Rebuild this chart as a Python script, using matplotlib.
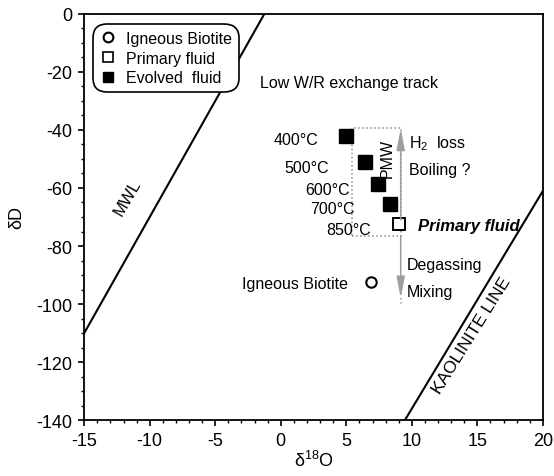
import numpy as np
import matplotlib
matplotlib.use('Agg')
import matplotlib.pyplot as plt
from matplotlib.patches import Rectangle
from matplotlib.lines import Line2D
from matplotlib.ticker import MultipleLocator

plt.rcParams['font.family'] = ['Liberation Sans', 'DejaVu Sans']
plt.rcParams['mathtext.fontset'] = 'custom'
plt.rcParams['mathtext.rm'] = 'Liberation Sans'
plt.rcParams['mathtext.it'] = 'Liberation Sans:italic'
plt.rcParams['axes.unicode_minus'] = False

# Evolved fluid compositions, one per temperature step
evolved_temps = ['400°C', '500°C', '600°C', '700°C']
evolved_d18o = [5.0, 6.4, 7.4, 8.3]
evolved_dd = [-42.0, -51.0, -58.5, -65.5]

# Primary magmatic fluid (850°C) and the igneous biotite
primary_temp = '850°C'
primary_d18o = 9.0
primary_dd = -72.5
biotite_d18o = 6.9
biotite_dd = -92.5

# Primary magmatic water (PMW) field
pmw_d18o = [5.45, 9.2]
pmw_dd = [-76.5, -39.5]

# Reference lines: dD = slope * d18O + intercept
mwl_slope, mwl_icpt = 8.0, 10.0
kaol_slope, kaol_icpt = 7.5, -211.0

# label offsets (points) for the temperature tags, right aligned
temp_offsets = [(-20, -3), (-26, -4), (-20, -4), (-25, -3)]
primary_offset = (-20, -4)

fig = plt.figure(figsize=(5.54, 4.77), dpi=100)
ax = fig.add_axes([0.152, 0.117, 0.828, 0.852])

xs = np.array([-15.0, 20.0])
ax.plot(xs, mwl_slope * xs + mwl_icpt, color='black', lw=1.5)
ax.plot(xs, kaol_slope * xs + kaol_icpt, color='black', lw=1.5)

# PMW box
ax.add_patch(Rectangle((pmw_d18o[0], pmw_dd[0]), pmw_d18o[1] - pmw_d18o[0],
                       pmw_dd[1] - pmw_dd[0], fill=False, ec='0.55', lw=1.1, ls=':'))

# H2 loss / boiling (up) and degassing / mixing (down) tracks
arrow_x = 9.15
head = dict(arrowstyle='-|>,head_length=1.3,head_width=0.25', color='0.62', lw=1.1,
            shrinkA=0, shrinkB=0)
ax.annotate('', xy=(arrow_x, -39.5), xytext=(arrow_x, primary_dd + 1.5), arrowprops=head)
ax.annotate('', xy=(arrow_x, -98), xytext=(arrow_x, primary_dd - 4), arrowprops=head)
ax.plot([arrow_x, arrow_x], [-98, -100.5], color='0.62', lw=1.1, ls=':')

# data points
ax.plot(evolved_d18o, evolved_dd, ls='none', marker='s', ms=9.5, mfc='black', mec='black')
ax.plot(primary_d18o, primary_dd, ls='none', marker='s', ms=8.5, mfc='white',
        mec='black', mew=1.4)
ax.plot(biotite_d18o, biotite_dd, ls='none', marker='o', ms=7.5, mfc='white',
        mec='black', mew=1.5)

fs = 11.5
for t, x, y, off in zip(evolved_temps, evolved_d18o, evolved_dd, temp_offsets):
    ax.annotate(t, (x, y), xytext=off, textcoords='offset points',
                ha='right', va='center', fontsize=fs)
ax.annotate(primary_temp, (primary_d18o, primary_dd), xytext=primary_offset,
            textcoords='offset points', ha='right', va='center', fontsize=fs)
ax.annotate('Igneous Biotite', (biotite_d18o, biotite_dd), xytext=(-17, -1),
            textcoords='offset points', ha='right', va='center', fontsize=fs)
ax.annotate('Primary fluid', (primary_d18o, primary_dd), xytext=(14, -1),
            textcoords='offset points', ha='left', va='center', fontsize=12,
            fontweight='bold', fontstyle='italic')

ax.text(-1.55, -23.5, 'Low W/R exchange track', ha='left', va='center', fontsize=fs)
ax.text(8.1, -49.5, 'PMW', rotation=90, ha='center', va='center', fontsize=fs)
ax.text(9.8, -44.5, r'H$_2$  loss', ha='left', va='center', fontsize=fs)
ax.text(9.8, -53.5, 'Boiling ?', ha='left', va='center', fontsize=fs)
ax.text(9.6, -86.3, 'Degassing', ha='left', va='center', fontsize=fs)
ax.text(9.6, -95.5, 'Mixing', ha='left', va='center', fontsize=fs)
ax.text(-11.7, -63, 'MWL', rotation=60, ha='center', va='center', fontsize=12)
ax.text(14.6, -110.5, 'KAOLINITE LINE', rotation=58, ha='center', va='center', fontsize=12.5)

handles = [
    Line2D([], [], ls='none', marker='o', ms=7, mfc='white', mec='black', mew=1.5),
    Line2D([], [], ls='none', marker='s', ms=7.5, mfc='white', mec='black', mew=1.2),
    Line2D([], [], ls='none', marker='s', ms=7.5, mfc='black', mec='black'),
]
leg = ax.legend(handles, ['Igneous Biotite', 'Primary fluid', 'Evolved  fluid'],
                loc='upper left', bbox_to_anchor=(0.019, 0.976), borderaxespad=0,
                fontsize=fs, frameon=True, fancybox=True, handlelength=1.0,
                handletextpad=0.6, labelspacing=0.3, borderpad=0.45)
frame = leg.get_frame()
frame.set_edgecolor('black')
frame.set_linewidth(1.2)
frame.set_alpha(1)
frame.set_boxstyle('round,pad=0,rounding_size=0.9')

ax.set_xlim(-15, 20)
ax.set_ylim(-140, 0)
ax.xaxis.set_major_locator(MultipleLocator(5))
ax.xaxis.set_minor_locator(MultipleLocator(1))
ax.yaxis.set_major_locator(MultipleLocator(20))
ax.yaxis.set_minor_locator(MultipleLocator(5))
ax.tick_params(which='major', direction='out', length=4.5, width=1.2, labelsize=13,
               pad=4, top=False, right=False)
ax.tick_params(which='minor', direction='out', length=2.2, width=1.0, top=False, right=False)
for s in ax.spines.values():
    s.set_linewidth(1.3)

ax.set_xlabel(r'δ$^{\mathrm{18}}$O', fontsize=13, labelpad=1)
ax.set_ylabel('δD', fontsize=13, labelpad=8)

fig.savefig('out.png', dpi=100)
